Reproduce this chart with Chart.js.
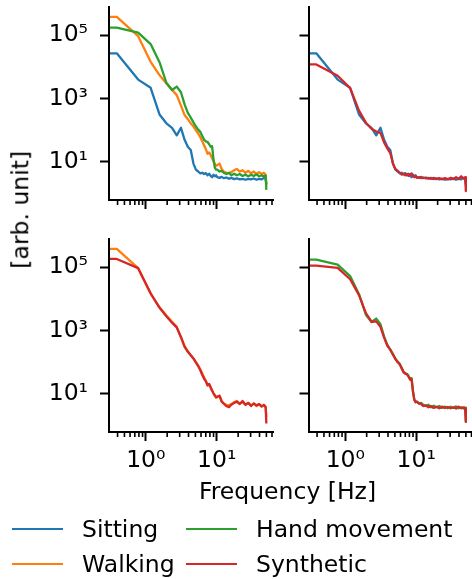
<!DOCTYPE html>
<html>
<head>
<meta charset="utf-8">
<script src="https://cdn.jsdelivr.net/npm/chart.js@4"></script>
<style>
html,body{margin:0;padding:0;background:#fff;width:472px;height:579px;overflow:hidden;position:relative;font-family:'DejaVu Sans',sans-serif;}
.pane{position:absolute;}
.pane canvas{display:block;}
.txt{position:absolute;font-size:23.5px;line-height:23.5px;white-space:nowrap;color:#000;font-family:'DejaVu Sans',sans-serif;}
.hdl{position:absolute;height:2.2px;width:51px;}
</style>
</head>
<body>
<div class="pane" style="left:0;top:0"><canvas id="c0" width="290" height="230" style="width:290px;height:230px"></canvas></div>
<div class="pane" style="left:290px;top:0"><canvas id="c1" width="190" height="230" style="width:190px;height:230px"></canvas></div>
<div class="pane" style="left:0;top:230px"><canvas id="c2" width="290" height="290" style="width:290px;height:290px"></canvas></div>
<div class="pane" style="left:290px;top:230px"><canvas id="c3" width="190" height="290" style="width:190px;height:290px"></canvas></div>

<div class="txt" id="xtitle" style="left:0;width:575px;text-align:center;top:480px">Frequency [Hz]</div>
<div class="txt" id="ytitle" style="left:-39px;top:198px;width:120px;text-align:center;transform:rotate(-90deg);transform-origin:50% 50%">[arb. unit]</div>

<div id="legend"></div>

<script>
// ---------------- data ----------------
const FREQ = [0.3, 0.39, 0.78, 1.17, 1.56, 1.95, 2.34, 2.73, 3.13, 3.52, 3.91, 4.30, 4.69, 5.08, 5.47, 5.86, 6.25, 6.64, 7.03, 7.42, 7.81, 8.20, 8.59, 8.98, 9.38, 9.77, 10.16, 10.94, 11.72, 12.5, 13.67, 14.84, 16.02, 17.58, 19.14, 21.09, 23.05, 25.39, 27.73, 30.47, 33.2, 36.33, 39.45, 42.97, 46.09, 48.83, 50.0];

const SITTING = [26900, 26900, 3980, 2190, 316, 166, 120, 69.2, 120, 50.1, 30.2, 24.0, 8.91, 5.75, 5.01, 4.37, 4.57, 4.17, 4.47, 3.80, 4.27, 3.63, 3.31, 3.98, 3.55, 3.80, 3.31, 3.16, 3.39, 3.09, 3.24, 2.95, 3.16, 2.88, 3.02, 2.82, 2.95, 2.75, 2.95, 2.82, 3.02, 2.75, 2.95, 2.82, 3.16, 2.88, 2.00];

const WALKING = [380000, 380000, 93300, 14500, 5500, 3020, 1905, 1288, 603, 302, 224, 166, 132, 100, 79.4, 60.3, 44.7, 33.1, 25.1, 18.2, 20.0, 16.6, 13.2, 10.5, 8.91, 7.59, 7.94, 8.91, 6.03, 5.01, 4.57, 4.37, 4.79, 5.50, 6.03, 5.01, 5.50, 4.57, 5.25, 4.37, 5.01, 4.17, 4.79, 4.17, 4.57, 3.98, 1.86];

const HAND = [174000, 174000, 120000, 52500, 14100, 3162, 1862, 2399, 1585, 661, 355, 251, 178, 132, 105, 89.1, 66.1, 50.1, 44.7, 42.7, 36.3, 30.2, 31.6, 12.6, 6.61, 5.75, 5.75, 5.01, 5.25, 4.57, 4.17, 4.57, 3.80, 4.27, 3.80, 4.17, 3.63, 3.98, 3.55, 3.98, 3.63, 4.07, 3.55, 3.80, 3.47, 3.72, 1.32];

const SYN_SITTING = [12000, 12000, 5248, 2138, 417, 174, 112, 91.2, 83.2, 41.7, 26.9, 19.1, 8.91, 6.03, 5.25, 4.57, 3.98, 4.17, 3.80, 4.17, 3.63, 3.98, 4.37, 3.63, 3.31, 3.55, 3.16, 3.31, 3.09, 3.24, 3.02, 3.16, 2.95, 3.16, 2.88, 3.09, 2.88, 3.09, 2.82, 3.16, 2.88, 3.31, 2.95, 3.55, 3.02, 3.31, 1.20];

const SYN_WALKING = [182000, 182000, 93300, 15100, 5248, 2818, 1778, 1259, 631, 316, 214, 166, 132, 100, 75.9, 56.2, 39.8, 30.2, 25.1, 19.1, 20.9, 15.8, 12.6, 10.5, 9.12, 7.94, 8.32, 8.71, 5.75, 5.01, 4.17, 3.80, 4.57, 5.25, 5.75, 4.79, 6.03, 4.57, 5.25, 4.17, 5.01, 4.37, 4.79, 3.98, 4.47, 3.80, 1.17];

const SYN_HAND = [112000, 112000, 95500, 41700, 13200, 3548, 1905, 1950, 1318, 603, 331, 251, 178, 126, 100, 85.1, 63.1, 47.9, 43.7, 41.7, 34.7, 28.2, 29.5, 12.0, 6.61, 5.50, 5.75, 5.01, 4.79, 4.17, 4.37, 3.80, 4.17, 3.63, 3.98, 3.55, 3.98, 3.63, 3.89, 3.55, 3.80, 3.47, 3.98, 3.55, 3.80, 3.47, 1.32];

const X_LIMITS = [0.303, 63];
const Y_LIMITS = [0.632, 760000];
const X_TICKS = [1, 10];
const X_TICK_LABELS = ['10⁰', '10¹'];
const X_MINOR_TICKS = [0.4, 0.5, 0.6, 0.7, 0.8, 0.9, 2, 3, 4, 5, 6, 7, 8, 9, 20, 30, 40, 50, 60];
const Y_TICKS = [10, 1000, 100000];
const Y_TICK_LABELS = ['10¹', '10³', '10⁵'];

const SERIES_NAMES = ['Sitting', 'Walking', 'Hand movement', 'Synthetic'];
const COLORS = {Sitting:'#1f77b4', Walking:'#ff7f0e', 'Hand movement':'#2ca02c', Synthetic:'#d62728'};

// ---------------- drawing ----------------
const FONT = {family: "'DejaVu Sans', sans-serif", size: 23.5, lineHeight: 1.2};

const minorTicks = {
  id: 'minorTicks',
  afterDraw(chart) {
    const sc = chart.scales.x, ctx = chart.ctx;
    ctx.save();
    ctx.strokeStyle = '#000';
    ctx.lineWidth = 1.6;
    X_MINOR_TICKS.forEach(v => {
      const px = sc.getPixelForValue(v);
      if (px < sc.left - 0.5 || px > sc.right + 0.5) return;
      ctx.beginPath();
      ctx.moveTo(px, sc.top + 1);
      ctx.lineTo(px, sc.top + 5);
      ctx.stroke();
    });
    ctx.restore();
  }
};

function makePanel(id, series, cfg) {
  const n = series.length;
  const datasets = series.map((s, i) => ({
    label: s.name,
    data: FREQ.map((f, k) => ({x: f, y: s.values[k]})),
    borderColor: COLORS[s.name],
    backgroundColor: COLORS[s.name],
    borderWidth: 2.3,
    pointRadius: 0,
    tension: 0,
    fill: false,
    order: n - i,               // later series drawn on top (like matplotlib)
    borderJoinStyle: 'round',
    borderCapStyle: 'butt'
  }));
  return new Chart(document.getElementById(id), {
    type: 'line',
    data: {datasets},
    options: {
      responsive: false,
      animation: false,
      events: [],
      layout: {padding: {left: 0, top: cfg.top, right: cfg.right, bottom: 0}},
      plugins: {legend: {display: false}, tooltip: {enabled: false}},
      scales: {
        x: {
          type: 'logarithmic', position: 'bottom', bounds: 'data',
          min: X_LIMITS[0], max: X_LIMITS[1],
          afterBuildTicks: sc => { sc.ticks = X_TICKS.map(v => ({value: v})); },
          afterFit: sc => { sc.height = cfg.xh; sc.paddingLeft = 0; sc.paddingRight = 0; },
          ticks: {
            autoSkip: false, maxRotation: 0, minRotation: 0, padding: 6, color: '#000', font: FONT,
            callback: v => cfg.showX ? X_TICK_LABELS[X_TICKS.indexOf(v)] : ''
          },
          grid: {display: true, drawOnChartArea: false, drawTicks: true, tickLength: 9, tickWidth: 2, tickColor: '#000'},
          border: {display: true, color: '#000', width: 2, z: 1}
        },
        y: {
          type: 'logarithmic', position: 'left', bounds: 'data',
          min: Y_LIMITS[0], max: Y_LIMITS[1],
          afterBuildTicks: sc => { sc.ticks = Y_TICKS.map(v => ({value: v})); },
          afterFit: sc => { sc.width = cfg.yw; sc.paddingTop = 0; sc.paddingBottom = 0; },
          ticks: {
            autoSkip: false, padding: 12, color: '#000', font: FONT,
            callback: v => cfg.showY ? Y_TICK_LABELS[Y_TICKS.indexOf(v)] : ''
          },
          grid: {display: true, drawOnChartArea: false, drawTicks: true, tickLength: 9, tickWidth: 2, tickColor: '#000'},
          border: {display: true, color: '#000', width: 2, z: 1}
        }
      }
    },
    plugins: [minorTicks]
  });
}

makePanel('c0', [
  {name: 'Sitting', values: SITTING},
  {name: 'Walking', values: WALKING},
  {name: 'Hand movement', values: HAND}
], {top: 7.3, right: 16.5, yw: 109, xh: 30, showX: false, showY: true});

makePanel('c1', [
  {name: 'Sitting', values: SITTING},
  {name: 'Synthetic', values: SYN_SITTING}
], {top: 7.3, right: 7, yw: 18.5, xh: 30, showX: false, showY: false});

makePanel('c2', [
  {name: 'Walking', values: WALKING},
  {name: 'Synthetic', values: SYN_WALKING}
], {top: 9.3, right: 16.5, yw: 109, xh: 88, showX: true, showY: true});

makePanel('c3', [
  {name: 'Hand movement', values: HAND},
  {name: 'Synthetic', values: SYN_HAND}
], {top: 9.3, right: 7, yw: 18.5, xh: 88, showX: true, showY: false});

// legend (2 columns, column-major like the reference)
const LEG_POS = [[12, 529], [12, 564], [186, 529], [186, 564]];
const leg = document.getElementById('legend');
SERIES_NAMES.forEach((name, i) => {
  const [lx, ly] = LEG_POS[i];
  const h = document.createElement('div');
  h.className = 'hdl';
  h.style.left = lx + 'px';
  h.style.top = (ly - 1.1) + 'px';
  h.style.background = COLORS[name];
  leg.appendChild(h);
  const t = document.createElement('div');
  t.className = 'txt';
  t.style.left = (lx + 70) + 'px';
  t.style.top = (ly - 11.5) + 'px';
  t.textContent = name;
  leg.appendChild(t);
});
</script>
</body>
</html>
